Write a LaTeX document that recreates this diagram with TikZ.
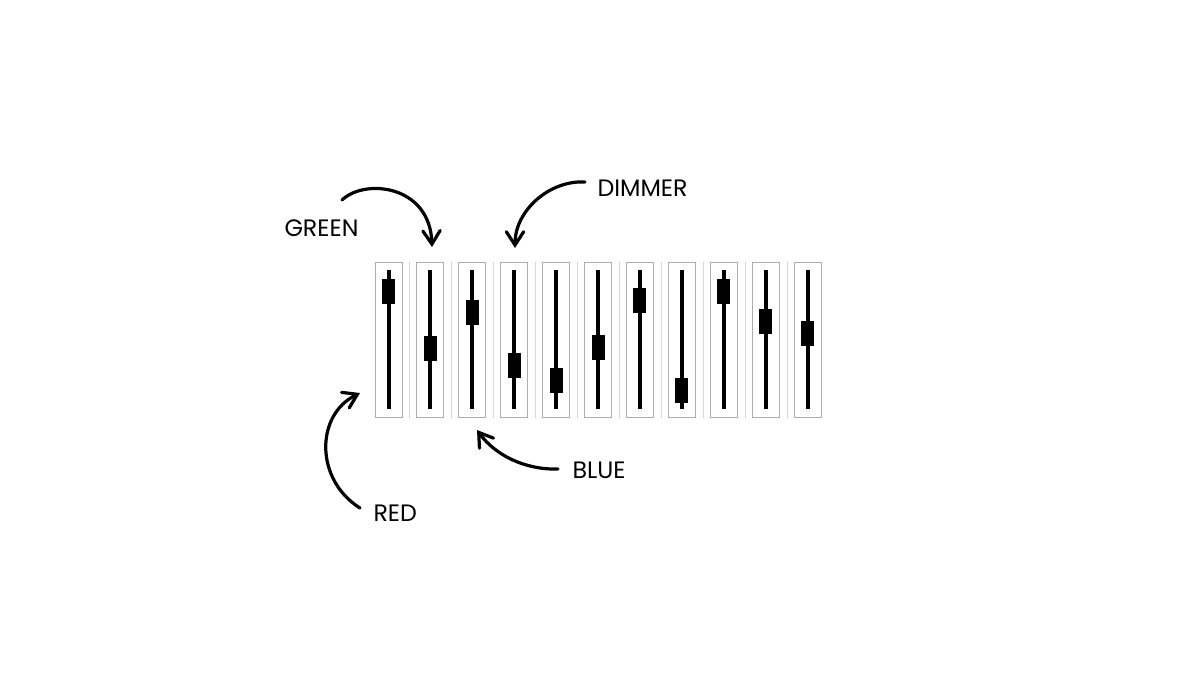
\documentclass[tikz,border=0pt]{standalone}
\usepackage{fontspec}
\setmainfont{Poppins}
\usetikzlibrary{arrows.meta}

\tikzset{every picture/.style={line width=0.75pt}}
\tikzset{
  faderbox/.style={draw=black!32, line width=0.75pt, minimum width=27*0.75pt, minimum height=155*0.75pt, inner sep=0pt},
  fadersep/.style={draw=black!16, line width=0.75pt},
  fadertrack/.style={line width=3pt},
  faderknob/.style={fill=black, minimum width=13*0.75pt, minimum height=25*0.75pt, inner sep=0pt},
  lbl/.style={anchor=base west, inner sep=0pt, font=\fontsize{17.8}{20}\selectfont},
  callout/.style={line width=2.4pt, line cap=round, -{Straight Barb[length=10pt,width=13pt,line cap=round]}}
}

\begin{document}
\begin{tikzpicture}[x=0.75pt,y=0.75pt,yscale=-1,xscale=1]
    \useasboundingbox (0,0) rectangle (1198,687);

    %Faders: box, track and knob
    \foreach \i/\k in {1/291.5,2/348,3/312,4/365.5,5/380,6/347.5,7/300,8/390.5,9/291.5,10/321,11/333.5}{
      \pgfmathsetmacro{\fx}{388.5+41.9*(\i-1)}
      \node [faderbox] (f\i) at (\fx,339.5) {};
      \draw [fadertrack] (\fx,270) -- (\fx,409);
      \node [faderknob] (k\i) at (\fx,\k) {};
    }
    %Straight Lines between faders
    \foreach \i in {1,...,10}{
      \draw [fadersep] ([xshift=5.6pt]f\i.north east) -- ([xshift=5.6pt]f\i.south east);
    }

    % Text Node
    \node [lbl] (green) at (284,236) {GREEN};
    % Text Node
    \node [lbl] (dimmer) at (597,196) {DIMMER};
    % Text Node
    \node [lbl] (blue) at (572,478) {BLUE};
    % Text Node
    \node [lbl] (red) at (373,521) {RED};

    %Arrow ends
    \coordinate (gs) at (342,200);
    \coordinate (ge) at (432,247);
    \coordinate (ds) at (585,182);
    \coordinate (de) at (515,248);
    \coordinate (bs) at (558,469);
    \coordinate (be) at (477,430);
    \coordinate (rs) at (360,508);
    \coordinate (re) at (360,393);

    %Curves
    \draw [callout] (gs) .. controls (365,178) and (430,185) .. (ge);
    \draw [callout] (ds) .. controls (550,180) and (515,210) .. (de);
    \draw [callout] (bs) .. controls (525,470) and (495,455) .. (be);
    \draw [callout] (rs) .. controls (315,480) and (315,415) .. (re);
\end{tikzpicture}
\end{document}
